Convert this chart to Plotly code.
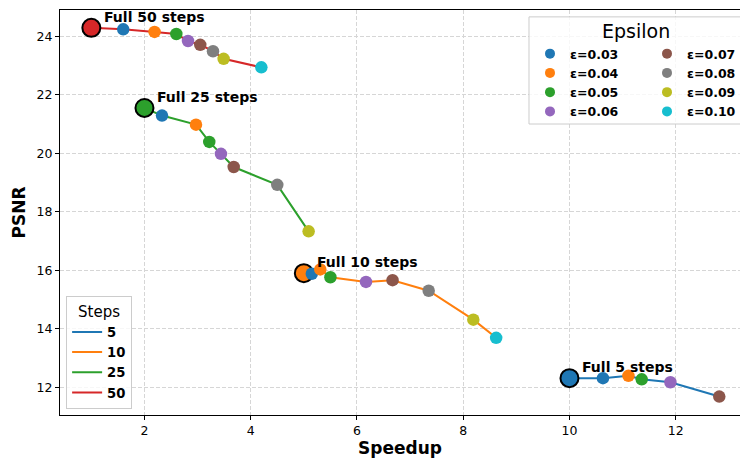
import plotly.graph_objects as go

# ---------------- data ----------------
steps = [5, 10, 25, 50]
step_names = ["5", "10", "25", "50"]
step_colors = ["#1f77b4", "#ff7f0e", "#2ca02c", "#d62728"]

eps_labels = ["ε=0.03", "ε=0.04", "ε=0.05", "ε=0.06",
              "ε=0.07", "ε=0.08", "ε=0.09", "ε=0.10"]
eps_colors = ["#1f77b4", "#ff7f0e", "#2ca02c", "#9467bd",
              "#8c564b", "#7f7f7f", "#bcbd22", "#17becf"]

full_speedup = [10.0, 5.0, 2.0, 1.0]
full_psnr = [12.31, 15.90, 21.55, 24.29]
full_labels = ["Full 5 steps", "Full 10 steps", "Full 25 steps", "Full 50 steps"]

speedup_5 = [10.63, 11.11, 11.36, 11.90, 12.82, None, None, None]
psnr_5 = [12.31, 12.39, 12.27, 12.17, 11.68, None, None, None]
speedup_10 = [5.15, 5.31, 5.50, 6.17, 6.67, 7.35, 8.19, 8.62]
psnr_10 = [15.88, 16.03, 15.76, 15.60, 15.66, 15.30, 14.31, 13.69]
speedup_25 = [2.33, 2.97, 3.22, 3.44, 3.68, 4.50, 5.09, None]
psnr_25 = [21.29, 20.98, 20.39, 19.98, 19.53, 18.92, 17.33, None]
speedup_50 = [1.60, 2.19, 2.60, 2.82, 3.05, 3.29, 3.49, 4.20]
psnr_50 = [24.24, 24.15, 24.08, 23.84, 23.71, 23.49, 23.23, 22.94]

series_speedup = [speedup_5, speedup_10, speedup_25, speedup_50]
series_psnr = [psnr_5, psnr_10, psnr_25, psnr_50]

x_ticks = [2, 4, 6, 8, 10, 12]
y_ticks = [12, 14, 16, 18, 20, 22, 24]

FONT = "DejaVu Sans"

fig = go.Figure()

# lines per step count
for i, name in enumerate(step_names):
    xs = [full_speedup[i]] + [v for v in series_speedup[i] if v is not None]
    ys = [full_psnr[i]] + [v for v in series_psnr[i] if v is not None]
    fig.add_trace(go.Scatter(
        x=xs, y=ys, mode="lines", name=name,
        line=dict(color=step_colors[i], width=2),
        legend="legend", hoverinfo="skip"))

# full-step markers
fig.add_trace(go.Scatter(
    x=full_speedup, y=full_psnr, mode="markers", showlegend=False,
    marker=dict(size=18, color=step_colors,
                line=dict(color="black", width=2))))

# epsilon points (plot) + legend-only proxies with smaller symbols
for j, lab in enumerate(eps_labels):
    xs, ys = [], []
    for i in range(len(steps)):
        sx = series_speedup[i][j]
        sy = series_psnr[i][j]
        if sx is not None:
            xs.append(sx)
            ys.append(sy)
    fig.add_trace(go.Scatter(
        x=xs, y=ys, mode="markers", name=lab, showlegend=False,
        marker=dict(size=12.5, color=eps_colors[j])))
    fig.add_trace(go.Scatter(
        x=[None], y=[None], mode="markers", name=lab,
        marker=dict(size=10, color=eps_colors[j]),
        legend="legend2" if j < 4 else "legend3"))

# annotations for full steps
for i, lab in enumerate(full_labels):
    fig.add_annotation(
        x=full_speedup[i], y=full_psnr[i], text=lab, showarrow=False,
        xanchor="left", yanchor="middle", xshift=11, yshift=11,
        font=dict(family=FONT, size=14, color="black", weight="bold"))

# Epsilon legend box + title
fig.add_shape(type="rect", xref="paper", yref="paper",
              x0=0.6897, x1=1.02, y0=0.7185, y1=0.983,
              line=dict(color="#cccccc", width=1),
              fillcolor="rgba(255,255,255,0.8)", layer="above")
fig.add_annotation(xref="paper", yref="paper", x=0.847, y=0.948,
                   text="Epsilon", showarrow=False,
                   xanchor="center", yanchor="middle",
                   font=dict(family=FONT, size=19, color="black"))

leg_font = dict(family=FONT, size=12.5, color="black", weight="bold")

grid = dict(showgrid=True, gridcolor="#d6d6d6", gridwidth=0.8,
            griddash="4px,2px")

fig.update_layout(
    width=740, height=462,
    margin=dict(l=60, r=0, t=10, b=47, autoexpand=False),
    paper_bgcolor="white", plot_bgcolor="white",
    font=dict(family=FONT, size=12, color="black"),
    legend=dict(
        x=0.009, y=0.014, xanchor="left", yanchor="bottom",
        bgcolor="rgba(255,255,255,0.8)", bordercolor="#cccccc", borderwidth=1,
        font=dict(family=FONT, size=13.2, color="black", weight="bold"),
        title=dict(text="Steps", side="top center",
                   font=dict(family=FONT, size=15, color="black",
                             weight="normal")),
        tracegroupgap=0, itemwidth=30),
    legend2=dict(
        x=(530 - 60) / 680, y=(415 - 39) / 405, xanchor="left", yanchor="top",
        bgcolor="rgba(0,0,0,0)", borderwidth=0, font=leg_font,
        tracegroupgap=0),
    legend3=dict(
        x=(647 - 60) / 680, y=(415 - 39) / 405, xanchor="left", yanchor="top",
        bgcolor="rgba(0,0,0,0)", borderwidth=0, font=leg_font,
        tracegroupgap=0),
    xaxis=dict(
        range=[0.41, 13.21], tickvals=x_ticks, automargin=False,
        showline=True, linecolor="black", linewidth=1, mirror=True,
        ticks="outside", ticklen=4, tickwidth=1, tickcolor="black",
        zeroline=False, tickfont=dict(family=FONT, size=12.5),
        title=dict(text="Speedup", standoff=5,
                   font=dict(family=FONT, size=17, weight="bold")),
        **grid),
    yaxis=dict(
        range=[11.05, 24.9], tickvals=y_ticks, automargin=False,
        showline=True, linecolor="black", linewidth=1,
        ticks="outside", ticklen=4, tickwidth=1, tickcolor="black",
        zeroline=False, tickfont=dict(family=FONT, size=12.5),
        title=dict(text="PSNR", standoff=6,
                   font=dict(family=FONT, size=17, weight="bold")),
        **grid),
)

fig.write_html("out.html")
